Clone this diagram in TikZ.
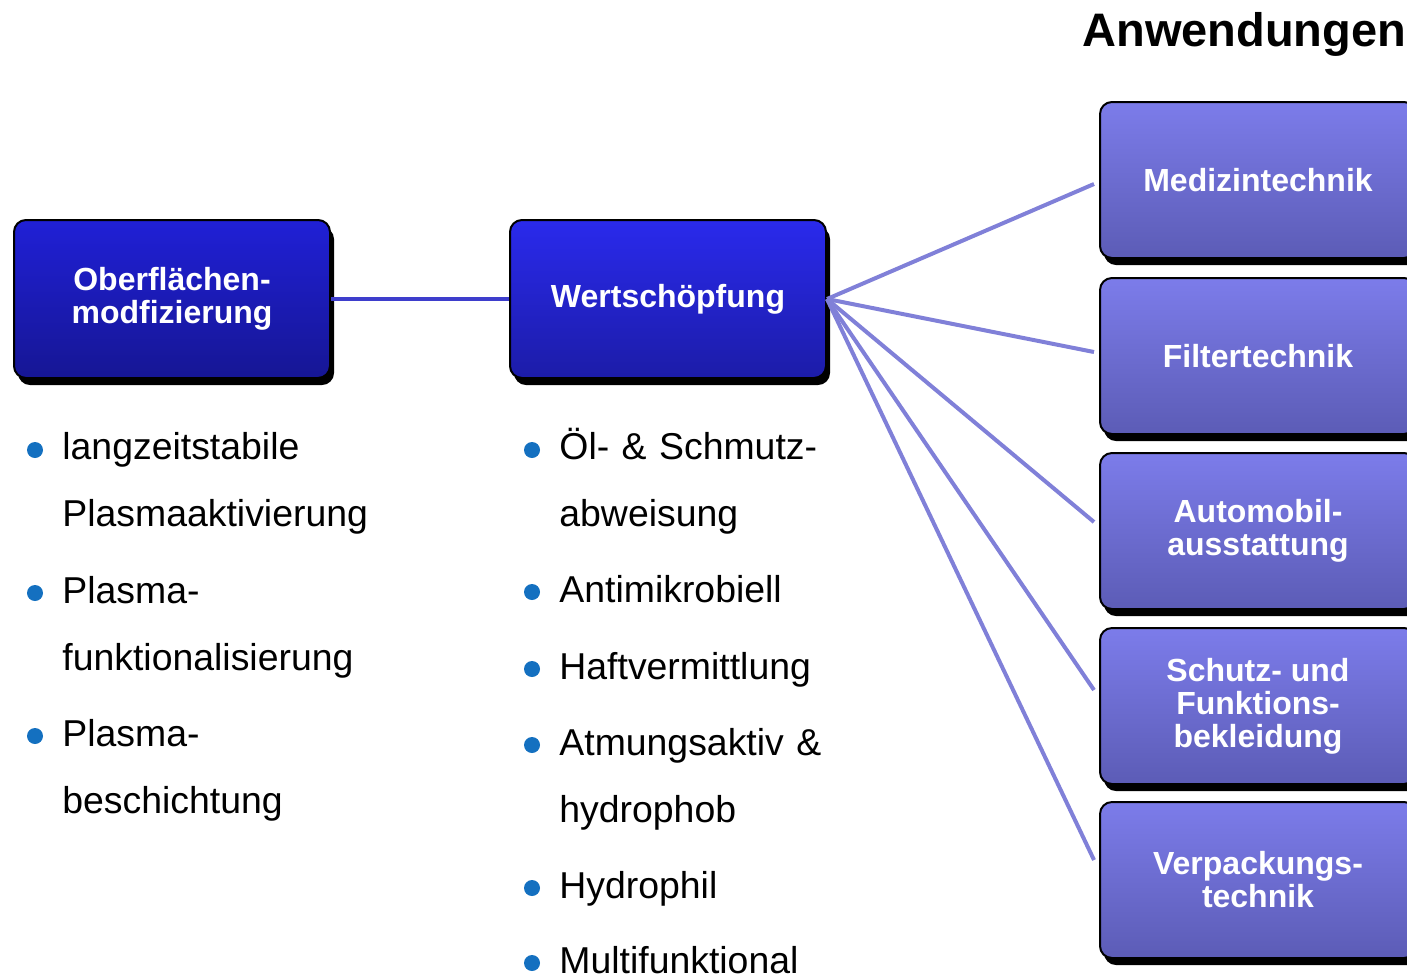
\documentclass[tikz,border=0pt]{standalone}
\usepackage{fontspec}
\setmainfont{Liberation Sans}
\usetikzlibrary{positioning, shadows}

\definecolor{leftTop}{RGB}{32,32,214}
\definecolor{leftBot}{RGB}{22,22,148}
\definecolor{midTop}{RGB}{42,42,236}
\definecolor{midBot}{RGB}{28,28,168}
\definecolor{appTop}{RGB}{124,124,234}
\definecolor{appBot}{RGB}{92,92,182}
\definecolor{linkBlue}{RGB}{62,62,204}
\definecolor{fanBlue}{RGB}{128,128,216}
\definecolor{dotBlue}{RGB}{20,112,192}

\begin{document}
\begin{tikzpicture}[
    x=0.5pt, y=-0.5pt,
    box/.style={draw=black, line width=1pt, rounded corners=6pt, minimum width=158pt, minimum height=79pt,
        inner sep=0pt, align=center, text=white, font=\bfseries\fontsize{16}{16.5}\selectfont,
        drop shadow={shadow xshift=2pt, shadow yshift=-3.5pt, fill=black, opacity=1}},
    leftbox/.style={box, top color=leftTop, bottom color=leftBot},
    midbox/.style={box, top color=midTop, bottom color=midBot},
    appbox/.style={box, minimum height=78pt, top color=appTop, bottom color=appBot},
    link/.style={line width=2pt, linkBlue},
    fan/.style={line width=2pt, fanBlue},
    dot/.style={circle, fill=dotBlue, inner sep=0pt, minimum size=8pt},
    item/.style={anchor=base west, inner sep=0pt, text width=220pt, align=left, font=\fontsize{18.7}{33.5}\selectfont},
    title/.style={anchor=base west, inner sep=0pt, font=\bfseries\fontsize{23.5}{28}\selectfont},
]
\useasboundingbox (0,0) rectangle (1407,976);

\node[title] (anw) at (1082,46) {Anwendungen};

% main boxes
\node[leftbox] (ober) at (172,299) {Oberfl\"achen-\\modfizierung};
\node[midbox] (wert) at (668,299) {Wertsch\"opfung};

% applications
\node[appbox] (med) at (1258,180) {Medizintechnik};
\node[appbox] (filt) at (1258,356) {Filtertechnik};
\node[appbox] (auto) at (1258,531) {Automobil-\\ausstattung};
\node[appbox] (schutz) at (1258,706) {Schutz- und\\Funktions-\\bekleidung};
\node[appbox] (verp) at (1258,880) {Verpackungs-\\technik};

\draw[link] (ober) -- (wert);
\draw[fan] (wert.east) -- ([xshift=-2.5pt, yshift=-2pt]med.west);
\draw[fan] (wert.east) -- ([xshift=-2.5pt, yshift=2pt]filt.west);
\draw[fan] (wert.east) -- ([xshift=-2.5pt, yshift=4.5pt]auto.west);
\draw[fan] (wert.east) -- ([xshift=-2.5pt, yshift=8pt]schutz.west);
\draw[fan] (wert.east) -- ([xshift=-2.5pt, yshift=10pt]verp.west);

% left list
\node[dot] (dl1) at (35,450) {};
\node[item] (tl1) at (62,459) {langzeitstabile\\Plasmaaktivierung};
\node[dot] (dl2) at (35,593) {};
\node[item] (tl2) at (62,603) {Plasma-\\funktionalisierung};
\node[dot] (dl3) at (35,736) {};
\node[item] (tl3) at (62,746) {Plasma-\\beschichtung};

% middle list
\node[dot] (dm1) at (532,450) {};
\node[item] (tm1) at (559,459) {\"Ol- \& Schmutz-\\abweisung};
\node[dot] (dm2) at (532,592) {};
\node[item] (tm2) at (559,602) {Antimikrobiell};
\node[dot] (dm3) at (532,669) {};
\node[item] (tm3) at (559,679) {Haftvermittlung};
\node[dot] (dm4) at (532,745) {};
\node[item] (tm4) at (559,755) {Atmungsaktiv \&\\hydrophob};
\node[dot] (dm5) at (532,888) {};
\node[item] (tm5) at (559,898) {Hydrophil};
\node[dot] (dm6) at (532,963) {};
\node[item] (tm6) at (559,973) {Multifunktional};

\end{tikzpicture}
\end{document}
